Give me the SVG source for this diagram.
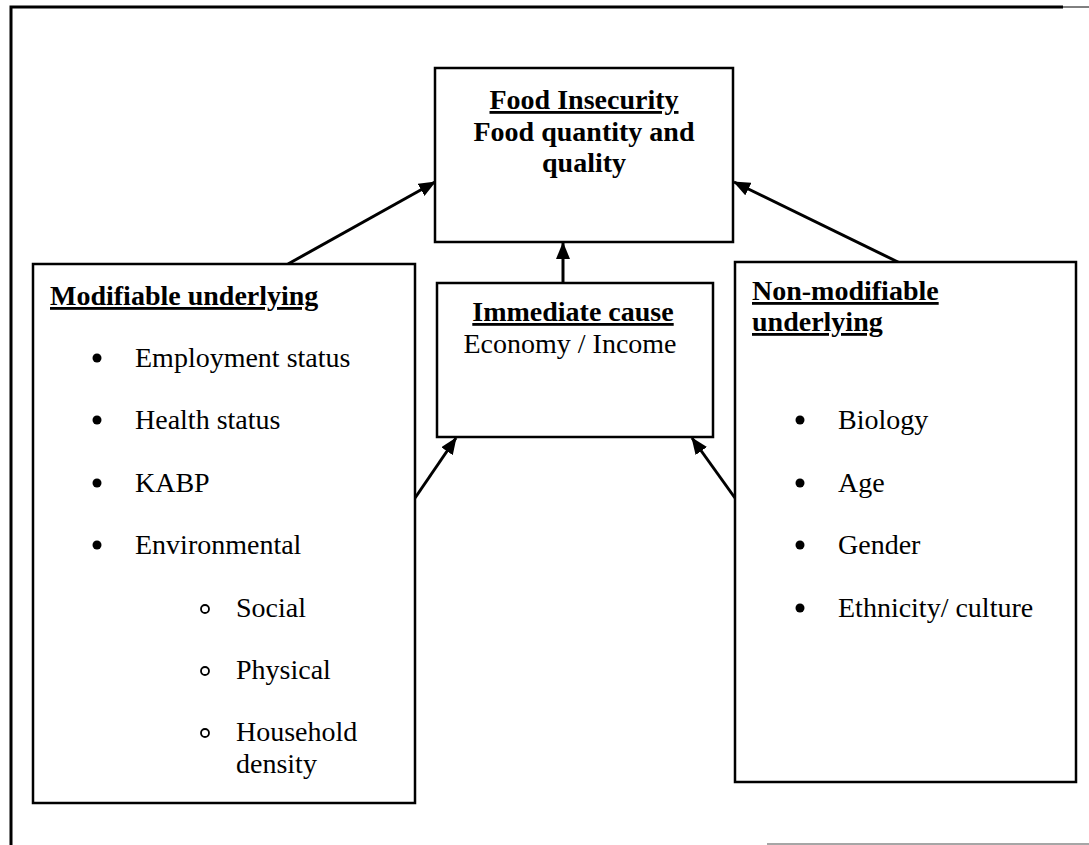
<svg xmlns="http://www.w3.org/2000/svg" width="1089" height="845" viewBox="0 0 1089 845">
  <style>
    .box { fill: #fff; stroke: #000; stroke-width: 2.5; }
    .t { font-family: "Liberation Serif", "Times New Roman", serif; font-size: 28px; fill: #000; }
    .b { font-weight: bold; }
    .u { text-decoration: underline; }
    .mid { text-anchor: middle; }
    .dot { fill: #000; }
    .ring { fill: none; stroke: #000; stroke-width: 1.8; }
    .conn { stroke: #000; stroke-width: 3; fill: none; marker-end: url(#head); }
  </style>
  <defs>
    <marker id="head" markerUnits="userSpaceOnUse" markerWidth="18" markerHeight="14" refX="16" refY="7" orient="auto">
      <path d="M0,0 L17,7 L0,14 Z" fill="#000"/>
    </marker>
  </defs>

  <rect width="1089" height="845" fill="#fff"/>

  <!-- page frame -->
  <g id="frame">
    <path d="M11,845 V7 H1063" fill="none" stroke="#000" stroke-width="3"/>
    <line x1="1063" y1="7" x2="1089" y2="7" stroke="#000" stroke-width="1"/>
    <line x1="767" y1="844" x2="1089" y2="844" stroke="#888" stroke-width="1.5"/>
  </g>

  <!-- connectors -->
  <g id="connectors">
    <line class="conn" x1="288" y1="264" x2="435" y2="182"/>
    <line class="conn" x1="900" y1="263" x2="734" y2="182"/>
    <line class="conn" x1="563" y1="283" x2="563" y2="243"/>
    <line class="conn" x1="415" y1="498" x2="456" y2="438"/>
    <line class="conn" x1="735" y1="498" x2="692" y2="438"/>
  </g>

  <g id="food-insecurity">
    <rect class="box" x="435" y="68" width="298" height="174"/>
    <text class="t b u mid" x="584" y="109">Food Insecurity</text>
    <text class="t b mid" x="584" y="141">Food quantity and</text>
    <text class="t b mid" x="584" y="172">quality</text>
  </g>

  <g id="immediate-cause">
    <rect class="box" x="437" y="283" width="276" height="154"/>
    <text class="t b u mid" x="573" y="321">Immediate cause</text>
    <text class="t mid" x="570" y="353">Economy / Income</text>
  </g>

  <g id="modifiable">
    <rect class="box" x="33" y="264" width="382" height="539"/>
    <text class="t b u" x="50" y="305">Modifiable underlying</text>
    <circle class="dot" cx="97" cy="358" r="4.5"/>
    <text class="t" x="135" y="367">Employment status</text>
    <circle class="dot" cx="97" cy="420" r="4.5"/>
    <text class="t" x="135" y="429">Health status</text>
    <circle class="dot" cx="97" cy="483" r="4.5"/>
    <text class="t" x="135" y="492">KABP</text>
    <circle class="dot" cx="97" cy="545" r="4.5"/>
    <text class="t" x="135" y="554">Environmental</text>
    <circle class="ring" cx="205" cy="609" r="4"/>
    <text class="t" x="236" y="617">Social</text>
    <circle class="ring" cx="205" cy="671" r="4"/>
    <text class="t" x="236" y="679">Physical</text>
    <circle class="ring" cx="205" cy="733" r="4"/>
    <text class="t" x="236" y="741">Household</text>
    <text class="t" x="236" y="773">density</text>
  </g>

  <g id="non-modifiable">
    <rect class="box" x="735" y="262" width="341" height="520"/>
    <text class="t b u" x="752" y="300">Non-modifiable</text>
    <text class="t b u" x="752" y="331">underlying</text>
    <circle class="dot" cx="800" cy="420" r="4.5"/>
    <text class="t" x="838" y="429">Biology</text>
    <circle class="dot" cx="800" cy="483" r="4.5"/>
    <text class="t" x="838" y="492">Age</text>
    <circle class="dot" cx="800" cy="545" r="4.5"/>
    <text class="t" x="838" y="554">Gender</text>
    <circle class="dot" cx="800" cy="608" r="4.5"/>
    <text class="t" x="838" y="617">Ethnicity/ culture</text>
  </g>
</svg>
